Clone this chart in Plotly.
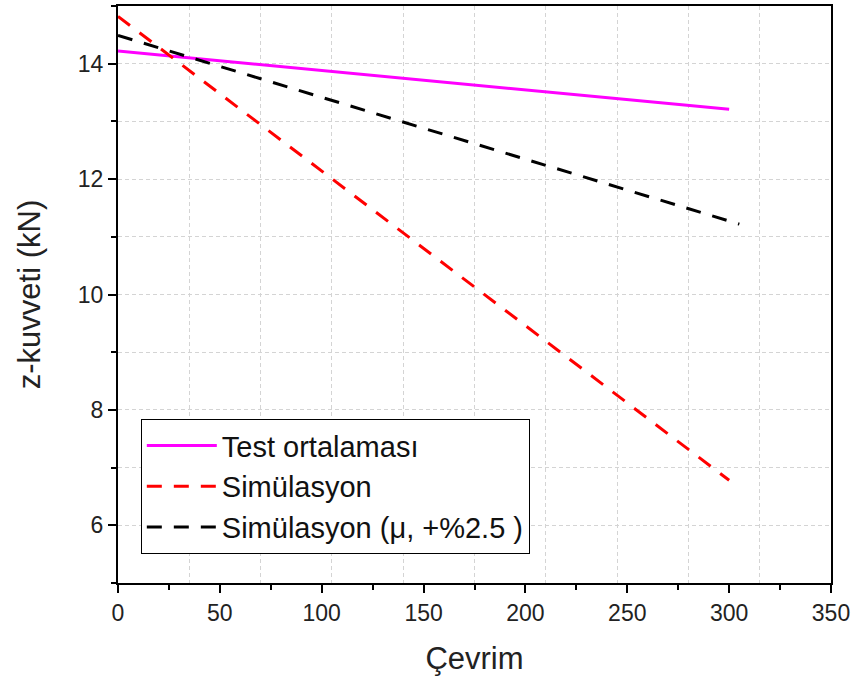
import plotly.graph_objects as go

# veri
cevrim_test = [0, 300]
test_ort = [14.22, 13.21]
cevrim_sim = [0, 300]
simulasyon = [14.82, 6.78]
cevrim_sim2 = [0, 305]
simulasyon_mu = [14.49, 11.22]

font = "Liberation Sans, Arial, sans-serif"

fig = go.Figure()
fig.add_trace(go.Scatter(x=cevrim_test, y=test_ort, mode="lines", name="Test ortalaması",
                         line=dict(color="#ff00ff", width=3)))
fig.add_trace(go.Scatter(x=cevrim_sim, y=simulasyon, mode="lines", name="Simülasyon",
                         line=dict(color="#ff0000", width=3, dash="15px,12px")))
fig.add_trace(go.Scatter(x=cevrim_sim2, y=simulasyon_mu, mode="lines", name="Simülasyon (μ, +%2.5 )",
                         line=dict(color="#000000", width=3, dash="15px,12px")))
# dummy trace for the 35-step vertical grid
fig.add_trace(go.Scatter(x=[None], y=[None], xaxis="x2", showlegend=False))

grid = dict(gridcolor="#d4d4d4", griddash="4px,3px", gridwidth=1)
tickf = dict(family=font, size=23, color="#222")
titlef = dict(family=font, size=31, color="#222")

fig.update_layout(
    width=852, height=679,
    margin=dict(l=118, r=21, t=6, b=96),
    paper_bgcolor="white", plot_bgcolor="white",
    font=dict(family=font, size=23, color="#222"),
    xaxis=dict(range=[0, 350], dtick=50, tick0=0, showgrid=False, zeroline=False, automargin=False,
               showline=True, linecolor="black", linewidth=2, mirror=True, tickfont=tickf,
               ticks="outside", ticklen=8, tickwidth=2, tickcolor="black",
               minor=dict(dtick=25, ticks="outside", ticklen=5, tickwidth=2, tickcolor="black"),
               title=dict(text="Çevrim", font=titlef, standoff=23)),
    xaxis2=dict(range=[0, 350], dtick=35, tick0=0, overlaying="x", showticklabels=False, automargin=False,
                ticks="", showline=False, zeroline=False, showgrid=True, layer="below traces", **grid),
    yaxis=dict(range=[5, 15], dtick=2, tick0=0, showgrid=True, zeroline=False, automargin=False,
               showline=True, linecolor="black", linewidth=2, mirror=True, tickfont=tickf,
               ticks="outside", ticklen=8, tickwidth=2, tickcolor="black",
               minor=dict(dtick=1, ticks="outside", ticklen=5, tickwidth=2, tickcolor="black",
                          showgrid=True, **grid),
               title=dict(text="z-kuvveti (kN)", font=titlef, standoff=28),
               **grid),
    legend=dict(x=0.032, y=0.284, xanchor="left", yanchor="top",
                bgcolor="white", bordercolor="black", borderwidth=1,
                font=dict(family=font, size=29, color="#111"), itemwidth=70, tracegroupgap=0),
)

fig.write_html("out.html", config={"displayModeBar": False},
               post_script="document.body.style.margin='0px';")
